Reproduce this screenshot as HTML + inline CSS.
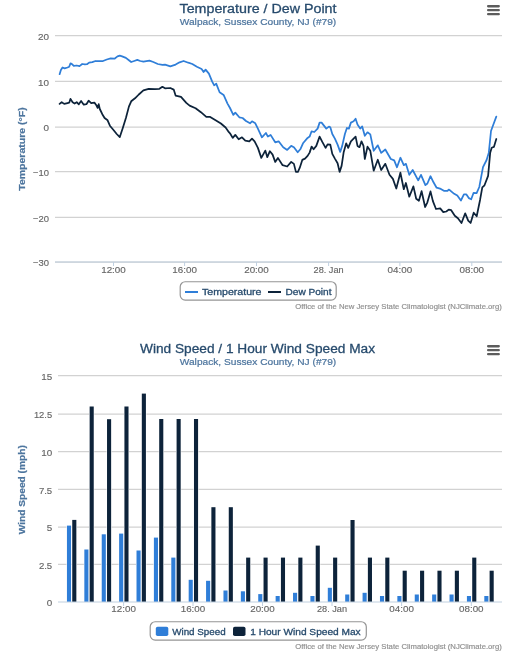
<!DOCTYPE html>
<html><head><meta charset="utf-8"><title>NJ Climate charts</title>
<style>
html,body{margin:0;padding:0;background:#fff;width:526px;height:657px;overflow:hidden;}
svg{display:block;position:absolute;left:0;top:0;}
text{font-family:"Liberation Sans", sans-serif;} .h{stroke-width:0.35px;} svg{will-change:transform;}
</style></head><body>
<svg width="526" height="657" viewBox="0 0 526 657">
<rect x="0" y="0" width="526" height="657" fill="#fff"/>
<text x="258" y="13" font-size="13.7" fill="#274b6d" text-anchor="middle" textLength="157" lengthAdjust="spacingAndGlyphs" stroke="#274b6d" stroke-width="0.3">Temperature / Dew Point</text>
<text x="258" y="24.8" font-size="9.9" fill="#4d759e" text-anchor="middle" textLength="156.5" lengthAdjust="spacingAndGlyphs" stroke="#4d759e" stroke-width="0.22">Walpack, Sussex County, NJ (#79)</text>
<rect x="487" y="5.00" width="12.9" height="2.4" rx="1.1" fill="#5c5c5c"/><rect x="487" y="8.95" width="12.9" height="2.4" rx="1.1" fill="#5c5c5c"/><rect x="487" y="12.90" width="12.9" height="2.4" rx="1.1" fill="#5c5c5c"/>
<line x1="55" x2="502" y1="35.62" y2="35.62" stroke="#d2d2d2" stroke-width="1.25"/>
<line x1="55" x2="502" y1="81.40" y2="81.40" stroke="#d2d2d2" stroke-width="1.25"/>
<line x1="55" x2="502" y1="127.00" y2="127.00" stroke="#d2d2d2" stroke-width="1.25"/>
<line x1="55" x2="502" y1="171.66" y2="171.66" stroke="#d2d2d2" stroke-width="1.25"/>
<line x1="55" x2="502" y1="217.40" y2="217.40" stroke="#d2d2d2" stroke-width="1.25"/>
<line x1="55" x2="502" y1="262.00" y2="262.00" stroke="#d2d2d2" stroke-width="1.25"/>
<text x="49" y="39.9" font-size="9.8" fill="#666666" text-anchor="end" textLength="11.0" lengthAdjust="spacingAndGlyphs" stroke="#666666" stroke-width="0.15">20</text>
<text x="49" y="85.7" font-size="9.8" fill="#666666" text-anchor="end" textLength="11.0" lengthAdjust="spacingAndGlyphs" stroke="#666666" stroke-width="0.15">10</text>
<text x="49" y="131.2" font-size="9.8" fill="#666666" text-anchor="end" textLength="5.5" lengthAdjust="spacingAndGlyphs" stroke="#666666" stroke-width="0.15">0</text>
<text x="49" y="175.9" font-size="9.8" fill="#666666" text-anchor="end" textLength="16.0" lengthAdjust="spacingAndGlyphs" stroke="#666666" stroke-width="0.15">−10</text>
<text x="49" y="221.7" font-size="9.8" fill="#666666" text-anchor="end" textLength="16.0" lengthAdjust="spacingAndGlyphs" stroke="#666666" stroke-width="0.15">−20</text>
<text x="49" y="266.2" font-size="9.8" fill="#666666" text-anchor="end" textLength="16.0" lengthAdjust="spacingAndGlyphs" stroke="#666666" stroke-width="0.15">−30</text>
<line x1="55" x2="502" y1="262" y2="262" stroke="#c0d0e0" stroke-width="1.2"/>
<line x1="113.5" x2="113.5" y1="262" y2="266" stroke="#c0d0e0" stroke-width="1"/>
<text x="113.5" y="272.6" font-size="9.8" fill="#666666" text-anchor="middle" textLength="24.6" lengthAdjust="spacingAndGlyphs" stroke="#666666" stroke-width="0.15">12:00</text>
<line x1="184.6" x2="184.6" y1="262" y2="266" stroke="#c0d0e0" stroke-width="1"/>
<text x="184.6" y="272.6" font-size="9.8" fill="#666666" text-anchor="middle" textLength="24.6" lengthAdjust="spacingAndGlyphs" stroke="#666666" stroke-width="0.15">16:00</text>
<line x1="256.5" x2="256.5" y1="262" y2="266" stroke="#c0d0e0" stroke-width="1"/>
<text x="256.5" y="272.6" font-size="9.8" fill="#666666" text-anchor="middle" textLength="24.6" lengthAdjust="spacingAndGlyphs" stroke="#666666" stroke-width="0.15">20:00</text>
<line x1="328.6" x2="328.6" y1="262" y2="266" stroke="#c0d0e0" stroke-width="1"/>
<text x="328.6" y="272.6" font-size="9.8" fill="#666666" text-anchor="middle" textLength="30.0" lengthAdjust="spacingAndGlyphs" stroke="#666666" stroke-width="0.15">28. Jan</text>
<line x1="399.9" x2="399.9" y1="262" y2="266" stroke="#c0d0e0" stroke-width="1"/>
<text x="399.9" y="272.6" font-size="9.8" fill="#666666" text-anchor="middle" textLength="24.6" lengthAdjust="spacingAndGlyphs" stroke="#666666" stroke-width="0.15">04:00</text>
<line x1="471.8" x2="471.8" y1="262" y2="266" stroke="#c0d0e0" stroke-width="1"/>
<text x="471.8" y="272.6" font-size="9.8" fill="#666666" text-anchor="middle" textLength="24.6" lengthAdjust="spacingAndGlyphs" stroke="#666666" stroke-width="0.15">08:00</text>
<text transform="translate(25.3,149.0) rotate(-90)" x="0" y="0" font-size="9.5" font-weight="bold" fill="#4d759e" text-anchor="middle" textLength="83.5" lengthAdjust="spacingAndGlyphs" stroke="#4d759e" stroke-width="0.22">Temperature (°F)</text>
<path d="M59.6 74.2 L60.9 70.0 L62.5 67.5 L64.6 68.4 L67.5 67.5 L69.2 66.7 L70.5 63.4 L71.7 63.8 L73.8 65.9 L76.7 65.5 L79.5 66.1 L82.2 64.0 L84.9 64.4 L87.0 64.2 L89.1 62.6 L92.3 62.1 L95.5 61.0 L97.6 61.2 L100.0 61.0 L103.0 61.0 L106.8 59.5 L110.7 58.4 L114.5 58.7 L117.5 56.4 L119.8 55.7 L122.1 56.4 L125.9 57.9 L128.9 60.2 L131.2 62.0 L134.2 61.0 L137.3 59.9 L140.3 61.0 L143.4 61.7 L149.5 60.7 L153.3 62.0 L157.8 64.0 L162.4 64.8 L165.0 64.6 L170.3 66.3 L175.6 64.6 L179.6 62.3 L183.6 61.0 L188.3 62.7 L192.3 64.0 L196.9 66.7 L201.6 69.0 L203.6 72.0 L205.6 69.6 L208.9 73.6 L212.2 81.6 L214.2 85.3 L216.2 83.6 L219.6 92.3 L223.6 94.9 L227.5 103.6 L230.0 108.0 L233.3 114.9 L235.3 112.6 L239.3 117.3 L242.6 118.0 L246.0 121.0 L250.0 123.3 L252.0 121.3 L255.3 123.3 L257.9 128.6 L261.9 137.3 L265.9 133.0 L267.9 136.6 L270.6 134.9 L275.2 142.3 L278.6 141.3 L283.2 147.2 L287.2 149.9 L291.2 145.9 L293.9 147.2 L297.7 152.3 L300.3 149.3 L303.0 143.3 L307.6 137.9 L309.6 136.6 L311.6 131.3 L314.3 132.0 L317.6 128.6 L319.6 122.6 L321.6 122.6 L326.3 128.6 L328.9 126.6 L330.3 127.3 L332.3 134.0 L334.9 138.6 L337.6 144.6 L340.2 151.9 L342.2 145.9 L344.9 134.0 L346.9 128.0 L348.9 128.6 L350.9 122.6 L353.6 121.3 L355.6 118.7 L357.5 124.6 L360.2 128.6 L362.2 126.4 L364.8 135.8 L367.5 132.3 L370.3 134.4 L373.7 150.8 L377.8 145.3 L381.2 152.9 L385.3 149.5 L390.8 159.0 L394.2 160.4 L397.0 167.3 L400.4 157.7 L403.8 165.2 L405.9 163.8 L409.3 174.8 L412.7 170.0 L418.2 180.3 L421.0 174.8 L425.4 185.2 L427.4 183.5 L430.5 176.2 L433.5 182.3 L436.6 187.7 L440.8 188.9 L443.9 190.8 L447.5 190.8 L448.7 189.6 L450.6 190.8 L454.2 193.8 L457.3 195.6 L460.9 200.5 L463.9 194.4 L466.4 194.4 L468.8 198.1 L471.2 199.3 L473.6 192.8 L476.6 193.2 L479.3 187.0 L483.0 167.2 L486.6 160.0 L488.8 152.7 L491.0 131.0 L493.1 125.2 L496.3 116.6" fill="none" stroke="#2f7ed8" stroke-width="1.75" stroke-linejoin="round" stroke-linecap="round"/>
<path d="M59.6 103.9 L61.7 102.2 L64.2 103.9 L67.5 103.1 L69.2 102.7 L70.5 98.9 L72.6 102.2 L74.6 103.5 L76.7 102.2 L78.8 104.3 L81.1 101.0 L83.8 104.7 L86.4 104.2 L88.6 100.7 L91.2 103.1 L94.4 102.6 L96.0 104.7 L97.6 107.9 L98.7 104.2 L99.8 109.0 L102.3 114.2 L104.6 118.0 L107.6 120.3 L109.9 125.7 L113.7 130.2 L116.7 134.0 L119.8 137.1 L122.8 127.9 L125.9 118.0 L128.9 106.6 L131.2 101.3 L135.0 98.3 L138.8 94.5 L143.4 90.4 L148.7 88.8 L154.8 89.1 L159.4 88.8 L162.4 86.8 L165.0 88.3 L170.3 88.0 L173.7 89.6 L175.6 95.6 L181.0 96.9 L186.3 102.9 L189.6 105.6 L195.6 108.2 L200.9 112.2 L206.3 116.9 L210.2 116.9 L215.6 120.2 L220.9 123.5 L225.6 127.5 L228.9 132.2 L230.0 133.3 L232.7 137.9 L235.3 134.9 L238.7 139.3 L242.0 137.3 L245.3 140.6 L249.3 141.3 L252.0 138.6 L254.6 141.3 L257.9 147.9 L261.3 157.9 L265.3 150.6 L267.3 157.2 L269.9 151.2 L272.6 154.6 L275.2 161.9 L277.9 157.9 L282.6 165.2 L287.2 166.5 L291.2 161.9 L293.9 163.9 L295.9 171.9 L297.9 171.9 L299.7 167.9 L302.3 159.9 L305.0 158.6 L307.6 155.9 L309.6 152.6 L311.6 146.6 L313.6 149.3 L316.3 145.9 L319.6 136.6 L322.3 141.9 L325.6 147.9 L327.6 144.3 L330.3 144.6 L332.3 153.9 L334.9 158.6 L337.6 163.2 L339.6 171.9 L341.6 165.9 L343.6 152.6 L346.2 143.3 L348.2 147.9 L350.9 141.3 L353.6 138.6 L355.6 136.6 L357.5 145.9 L359.5 147.2 L361.5 141.3 L363.5 145.9 L364.8 159.0 L367.5 146.7 L370.3 150.8 L373.7 170.7 L377.8 159.7 L381.2 170.0 L385.3 163.8 L389.5 174.8 L392.9 178.9 L396.3 188.5 L400.4 172.7 L403.8 189.2 L405.9 183.0 L409.3 196.7 L413.4 186.4 L416.2 198.8 L418.9 200.8 L421.6 191.2 L425.1 207.0 L427.4 202.3 L430.5 191.4 L432.9 201.1 L436.0 209.0 L440.2 208.4 L443.3 212.1 L446.3 211.5 L448.7 209.6 L451.2 210.2 L454.8 215.7 L457.9 218.2 L461.5 223.0 L465.2 213.3 L468.2 220.6 L470.6 223.0 L473.7 212.7 L476.7 216.3 L480.1 199.7 L482.3 187.4 L484.5 185.3 L488.1 175.9 L490.2 152.7 L491.7 147.7 L493.9 146.9 L496.3 139.0" fill="none" stroke="#0d233a" stroke-width="1.75" stroke-linejoin="round" stroke-linecap="round"/>
<rect x="180.2" y="281.75" width="156.0" height="18.3" rx="5" fill="none" stroke="#959595" stroke-width="1.2"/>
<line x1="185" x2="198" y1="292" y2="292" stroke="#2f7ed8" stroke-width="2"/>
<text x="202" y="295.2" font-size="9.5" fill="#274b6d" textLength="59.5" lengthAdjust="spacingAndGlyphs" stroke="#274b6d" stroke-width="0.3">Temperature</text>
<line x1="268" x2="281" y1="292" y2="292" stroke="#0d233a" stroke-width="2"/>
<text x="285.5" y="295.2" font-size="9.5" fill="#274b6d" textLength="46" lengthAdjust="spacingAndGlyphs" stroke="#274b6d" stroke-width="0.3">Dew Point</text>
<text x="501.8" y="309" font-size="7.8" fill="#909090" text-anchor="end" textLength="206.5" lengthAdjust="spacingAndGlyphs" stroke="#909090" stroke-width="0.18">Office of the New Jersey State Climatologist (NJClimate.org)</text>
<text x="257.5" y="352.8" font-size="13.7" fill="#274b6d" text-anchor="middle" textLength="235" lengthAdjust="spacingAndGlyphs" stroke="#274b6d" stroke-width="0.3">Wind Speed / 1 Hour Wind Speed Max</text>
<text x="258" y="364.8" font-size="9.9" fill="#4d759e" text-anchor="middle" textLength="156.5" lengthAdjust="spacingAndGlyphs" stroke="#4d759e" stroke-width="0.22">Walpack, Sussex County, NJ (#79)</text>
<rect x="487" y="345.00" width="12.9" height="2.4" rx="1.1" fill="#5c5c5c"/><rect x="487" y="348.95" width="12.9" height="2.4" rx="1.1" fill="#5c5c5c"/><rect x="487" y="352.90" width="12.9" height="2.4" rx="1.1" fill="#5c5c5c"/>
<line x1="58" x2="502" y1="375.62" y2="375.62" stroke="#d2d2d2" stroke-width="1.25"/>
<line x1="58" x2="502" y1="414.20" y2="414.20" stroke="#d2d2d2" stroke-width="1.25"/>
<line x1="58" x2="502" y1="451.70" y2="451.70" stroke="#d2d2d2" stroke-width="1.25"/>
<line x1="58" x2="502" y1="489.40" y2="489.40" stroke="#d2d2d2" stroke-width="1.25"/>
<line x1="58" x2="502" y1="527.00" y2="527.00" stroke="#d2d2d2" stroke-width="1.25"/>
<line x1="58" x2="502" y1="564.40" y2="564.40" stroke="#d2d2d2" stroke-width="1.25"/>
<text x="52.2" y="379.9" font-size="9.8" fill="#666666" text-anchor="end" textLength="11.0" lengthAdjust="spacingAndGlyphs" stroke="#666666" stroke-width="0.15">15</text>
<text x="52.2" y="418.4" font-size="9.8" fill="#666666" text-anchor="end" textLength="18.3" lengthAdjust="spacingAndGlyphs" stroke="#666666" stroke-width="0.15">12.5</text>
<text x="52.2" y="455.9" font-size="9.8" fill="#666666" text-anchor="end" textLength="11.0" lengthAdjust="spacingAndGlyphs" stroke="#666666" stroke-width="0.15">10</text>
<text x="52.2" y="493.6" font-size="9.8" fill="#666666" text-anchor="end" textLength="13.3" lengthAdjust="spacingAndGlyphs" stroke="#666666" stroke-width="0.15">7.5</text>
<text x="52.2" y="531.2" font-size="9.8" fill="#666666" text-anchor="end" textLength="5.5" lengthAdjust="spacingAndGlyphs" stroke="#666666" stroke-width="0.15">5</text>
<text x="52.2" y="568.6" font-size="9.8" fill="#666666" text-anchor="end" textLength="13.3" lengthAdjust="spacingAndGlyphs" stroke="#666666" stroke-width="0.15">2.5</text>
<text x="52.2" y="606.2" font-size="9.8" fill="#666666" text-anchor="end" textLength="5.5" lengthAdjust="spacingAndGlyphs" stroke="#666666" stroke-width="0.15">0</text>
<text transform="translate(25.3,489.7) rotate(-90)" x="0" y="0" font-size="9.5" font-weight="bold" fill="#4d759e" text-anchor="middle" textLength="89" lengthAdjust="spacingAndGlyphs" stroke="#4d759e" stroke-width="0.22">Wind Speed (mph)</text>
<rect x="66.45" y="525.10" width="5.1" height="76.90" fill="#fff"/>
<rect x="71.75" y="519.40" width="5.1" height="82.60" fill="#fff"/>
<rect x="66.95" y="525.60" width="4.1" height="76.40" fill="#2f7ed8"/>
<rect x="72.25" y="519.90" width="4.1" height="82.10" fill="#0d233a"/>
<rect x="83.84" y="549.00" width="5.1" height="53.00" fill="#fff"/>
<rect x="89.14" y="406.00" width="5.1" height="196.00" fill="#fff"/>
<rect x="84.34" y="549.50" width="4.1" height="52.50" fill="#2f7ed8"/>
<rect x="89.64" y="406.50" width="4.1" height="195.50" fill="#0d233a"/>
<rect x="101.23" y="533.80" width="5.1" height="68.20" fill="#fff"/>
<rect x="106.53" y="418.70" width="5.1" height="183.30" fill="#fff"/>
<rect x="101.73" y="534.30" width="4.1" height="67.70" fill="#2f7ed8"/>
<rect x="107.03" y="419.20" width="4.1" height="182.80" fill="#0d233a"/>
<rect x="118.62" y="533.10" width="5.1" height="68.90" fill="#fff"/>
<rect x="123.92" y="406.00" width="5.1" height="196.00" fill="#fff"/>
<rect x="119.12" y="533.60" width="4.1" height="68.40" fill="#2f7ed8"/>
<rect x="124.42" y="406.50" width="4.1" height="195.50" fill="#0d233a"/>
<rect x="136.01" y="550.00" width="5.1" height="52.00" fill="#fff"/>
<rect x="141.31" y="393.10" width="5.1" height="208.90" fill="#fff"/>
<rect x="136.51" y="550.50" width="4.1" height="51.50" fill="#2f7ed8"/>
<rect x="141.81" y="393.60" width="4.1" height="208.40" fill="#0d233a"/>
<rect x="153.40" y="537.10" width="5.1" height="64.90" fill="#fff"/>
<rect x="158.70" y="418.50" width="5.1" height="183.50" fill="#fff"/>
<rect x="153.90" y="537.60" width="4.1" height="64.40" fill="#2f7ed8"/>
<rect x="159.20" y="419.00" width="4.1" height="183.00" fill="#0d233a"/>
<rect x="170.79" y="557.10" width="5.1" height="44.90" fill="#fff"/>
<rect x="176.09" y="418.50" width="5.1" height="183.50" fill="#fff"/>
<rect x="171.29" y="557.60" width="4.1" height="44.40" fill="#2f7ed8"/>
<rect x="176.59" y="419.00" width="4.1" height="183.00" fill="#0d233a"/>
<rect x="188.18" y="579.30" width="5.1" height="22.70" fill="#fff"/>
<rect x="193.48" y="418.50" width="5.1" height="183.50" fill="#fff"/>
<rect x="188.68" y="579.80" width="4.1" height="22.20" fill="#2f7ed8"/>
<rect x="193.98" y="419.00" width="4.1" height="183.00" fill="#0d233a"/>
<rect x="205.57" y="580.30" width="5.1" height="21.70" fill="#fff"/>
<rect x="210.87" y="506.70" width="5.1" height="95.30" fill="#fff"/>
<rect x="206.07" y="580.80" width="4.1" height="21.20" fill="#2f7ed8"/>
<rect x="211.37" y="507.20" width="4.1" height="94.80" fill="#0d233a"/>
<rect x="222.96" y="590.00" width="5.1" height="12.00" fill="#fff"/>
<rect x="228.26" y="506.70" width="5.1" height="95.30" fill="#fff"/>
<rect x="223.46" y="590.50" width="4.1" height="11.50" fill="#2f7ed8"/>
<rect x="228.76" y="507.20" width="4.1" height="94.80" fill="#0d233a"/>
<rect x="240.35" y="590.80" width="5.1" height="11.20" fill="#fff"/>
<rect x="245.65" y="557.10" width="5.1" height="44.90" fill="#fff"/>
<rect x="240.85" y="591.30" width="4.1" height="10.70" fill="#2f7ed8"/>
<rect x="246.15" y="557.60" width="4.1" height="44.40" fill="#0d233a"/>
<rect x="257.74" y="593.60" width="5.1" height="8.40" fill="#fff"/>
<rect x="263.04" y="557.10" width="5.1" height="44.90" fill="#fff"/>
<rect x="258.24" y="594.10" width="4.1" height="7.90" fill="#2f7ed8"/>
<rect x="263.54" y="557.60" width="4.1" height="44.40" fill="#0d233a"/>
<rect x="275.13" y="595.50" width="5.1" height="6.50" fill="#fff"/>
<rect x="280.43" y="557.10" width="5.1" height="44.90" fill="#fff"/>
<rect x="275.63" y="596.00" width="4.1" height="6.00" fill="#2f7ed8"/>
<rect x="280.93" y="557.60" width="4.1" height="44.40" fill="#0d233a"/>
<rect x="292.52" y="592.30" width="5.1" height="9.70" fill="#fff"/>
<rect x="297.82" y="557.10" width="5.1" height="44.90" fill="#fff"/>
<rect x="293.02" y="592.80" width="4.1" height="9.20" fill="#2f7ed8"/>
<rect x="298.32" y="557.60" width="4.1" height="44.40" fill="#0d233a"/>
<rect x="309.91" y="595.50" width="5.1" height="6.50" fill="#fff"/>
<rect x="315.21" y="545.10" width="5.1" height="56.90" fill="#fff"/>
<rect x="310.41" y="596.00" width="4.1" height="6.00" fill="#2f7ed8"/>
<rect x="315.71" y="545.60" width="4.1" height="56.40" fill="#0d233a"/>
<rect x="327.30" y="587.30" width="5.1" height="14.70" fill="#fff"/>
<rect x="332.60" y="557.10" width="5.1" height="44.90" fill="#fff"/>
<rect x="327.80" y="587.80" width="4.1" height="14.20" fill="#2f7ed8"/>
<rect x="333.10" y="557.60" width="4.1" height="44.40" fill="#0d233a"/>
<rect x="344.69" y="594.00" width="5.1" height="8.00" fill="#fff"/>
<rect x="349.99" y="519.50" width="5.1" height="82.50" fill="#fff"/>
<rect x="345.19" y="594.50" width="4.1" height="7.50" fill="#2f7ed8"/>
<rect x="350.49" y="520.00" width="4.1" height="82.00" fill="#0d233a"/>
<rect x="362.08" y="592.30" width="5.1" height="9.70" fill="#fff"/>
<rect x="367.38" y="557.10" width="5.1" height="44.90" fill="#fff"/>
<rect x="362.58" y="592.80" width="4.1" height="9.20" fill="#2f7ed8"/>
<rect x="367.88" y="557.60" width="4.1" height="44.40" fill="#0d233a"/>
<rect x="379.47" y="595.50" width="5.1" height="6.50" fill="#fff"/>
<rect x="384.77" y="557.10" width="5.1" height="44.90" fill="#fff"/>
<rect x="379.97" y="596.00" width="4.1" height="6.00" fill="#2f7ed8"/>
<rect x="385.27" y="557.60" width="4.1" height="44.40" fill="#0d233a"/>
<rect x="396.86" y="595.50" width="5.1" height="6.50" fill="#fff"/>
<rect x="402.16" y="570.20" width="5.1" height="31.80" fill="#fff"/>
<rect x="397.36" y="596.00" width="4.1" height="6.00" fill="#2f7ed8"/>
<rect x="402.66" y="570.70" width="4.1" height="31.30" fill="#0d233a"/>
<rect x="414.25" y="594.00" width="5.1" height="8.00" fill="#fff"/>
<rect x="419.55" y="570.20" width="5.1" height="31.80" fill="#fff"/>
<rect x="414.75" y="594.50" width="4.1" height="7.50" fill="#2f7ed8"/>
<rect x="420.05" y="570.70" width="4.1" height="31.30" fill="#0d233a"/>
<rect x="431.64" y="594.00" width="5.1" height="8.00" fill="#fff"/>
<rect x="436.94" y="570.20" width="5.1" height="31.80" fill="#fff"/>
<rect x="432.14" y="594.50" width="4.1" height="7.50" fill="#2f7ed8"/>
<rect x="437.44" y="570.70" width="4.1" height="31.30" fill="#0d233a"/>
<rect x="449.03" y="594.00" width="5.1" height="8.00" fill="#fff"/>
<rect x="454.33" y="570.20" width="5.1" height="31.80" fill="#fff"/>
<rect x="449.53" y="594.50" width="4.1" height="7.50" fill="#2f7ed8"/>
<rect x="454.83" y="570.70" width="4.1" height="31.30" fill="#0d233a"/>
<rect x="466.42" y="595.50" width="5.1" height="6.50" fill="#fff"/>
<rect x="471.72" y="557.10" width="5.1" height="44.90" fill="#fff"/>
<rect x="466.92" y="596.00" width="4.1" height="6.00" fill="#2f7ed8"/>
<rect x="472.22" y="557.60" width="4.1" height="44.40" fill="#0d233a"/>
<rect x="483.81" y="595.50" width="5.1" height="6.50" fill="#fff"/>
<rect x="489.11" y="570.20" width="5.1" height="31.80" fill="#fff"/>
<rect x="484.31" y="596.00" width="4.1" height="6.00" fill="#2f7ed8"/>
<rect x="489.61" y="570.70" width="4.1" height="31.30" fill="#0d233a"/>
<line x1="58" x2="502" y1="602" y2="602" stroke="#c0d0e0" stroke-width="1.2"/>
<line x1="123.6" x2="123.6" y1="602" y2="606" stroke="#c0d0e0" stroke-width="1"/>
<text x="123.6" y="612.4" font-size="9.8" fill="#666666" text-anchor="middle" textLength="24.6" lengthAdjust="spacingAndGlyphs" stroke="#666666" stroke-width="0.15">12:00</text>
<line x1="193.0" x2="193.0" y1="602" y2="606" stroke="#c0d0e0" stroke-width="1"/>
<text x="193.0" y="612.4" font-size="9.8" fill="#666666" text-anchor="middle" textLength="24.6" lengthAdjust="spacingAndGlyphs" stroke="#666666" stroke-width="0.15">16:00</text>
<line x1="262.5" x2="262.5" y1="602" y2="606" stroke="#c0d0e0" stroke-width="1"/>
<text x="262.5" y="612.4" font-size="9.8" fill="#666666" text-anchor="middle" textLength="24.6" lengthAdjust="spacingAndGlyphs" stroke="#666666" stroke-width="0.15">20:00</text>
<line x1="332.0" x2="332.0" y1="602" y2="606" stroke="#c0d0e0" stroke-width="1"/>
<text x="332.0" y="612.4" font-size="9.8" fill="#666666" text-anchor="middle" textLength="30.0" lengthAdjust="spacingAndGlyphs" stroke="#666666" stroke-width="0.15">28. Jan</text>
<line x1="401.6" x2="401.6" y1="602" y2="606" stroke="#c0d0e0" stroke-width="1"/>
<text x="401.6" y="612.4" font-size="9.8" fill="#666666" text-anchor="middle" textLength="24.6" lengthAdjust="spacingAndGlyphs" stroke="#666666" stroke-width="0.15">04:00</text>
<line x1="471.3" x2="471.3" y1="602" y2="606" stroke="#c0d0e0" stroke-width="1"/>
<text x="471.3" y="612.4" font-size="9.8" fill="#666666" text-anchor="middle" textLength="24.6" lengthAdjust="spacingAndGlyphs" stroke="#666666" stroke-width="0.15">08:00</text>
<rect x="150.2" y="621.75" width="216.1" height="18.3" rx="5" fill="none" stroke="#959595" stroke-width="1.2"/>
<rect x="155.8" y="626.7" width="12.5" height="9.3" rx="1.8" fill="#2f7ed8"/>
<text x="172.2" y="634.9" font-size="9.5" fill="#274b6d" textLength="53.5" lengthAdjust="spacingAndGlyphs" stroke="#274b6d" stroke-width="0.3">Wind Speed</text>
<rect x="233" y="626.7" width="12.5" height="9.3" rx="1.8" fill="#0d233a"/>
<text x="250.2" y="634.9" font-size="9.5" fill="#274b6d" textLength="110.5" lengthAdjust="spacingAndGlyphs" stroke="#274b6d" stroke-width="0.3">1 Hour Wind Speed Max</text>
<text x="501.8" y="648.8" font-size="7.8" fill="#909090" text-anchor="end" textLength="206.5" lengthAdjust="spacingAndGlyphs" stroke="#909090" stroke-width="0.18">Office of the New Jersey State Climatologist (NJClimate.org)</text>
</svg>
</body></html>
